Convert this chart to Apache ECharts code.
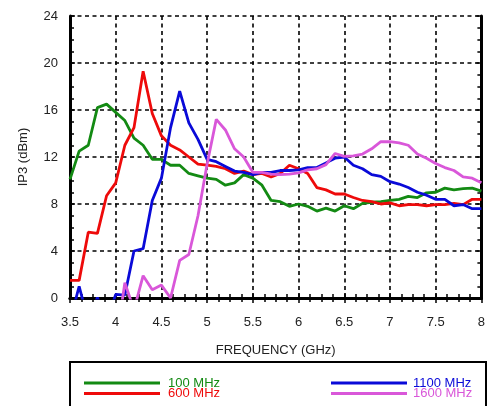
<!DOCTYPE html>
<html><head><meta charset="utf-8">
<script src="https://cdn.jsdelivr.net/npm/echarts@6/dist/echarts.min.js"></script>
<style>html,body{margin:0;padding:0;background:#fff}#c{width:488px;height:406px}</style>
</head><body><div id="c"></div>
<script>
const freqGHz = [3.5,3.6,3.7,3.8,3.9,4.0,4.1,4.2,4.3,4.4,4.5,4.6,4.7,4.8,4.9,5.0,5.1,5.2,5.3,5.4,5.5,5.6,5.7,5.8,5.9,6.0,6.1,6.2,6.3,6.4,6.5,6.6,6.7,6.8,6.9,7.0,7.1,7.2,7.3,7.4,7.5,7.6,7.7,7.8,7.9,8.0];
const seriesNames = ['100 MHz','600 MHz','1100 MHz','1600 MHz'];
const ip3_100 = [10.1,12.5,13.0,16.2,16.5,15.8,15.1,13.6,13.0,11.8,11.8,11.3,11.3,10.6,10.4,10.2,10.1,9.6,9.8,10.5,10.2,9.6,8.3,8.2,7.8,8.0,7.8,7.4,7.65,7.4,7.85,7.6,8.05,8.15,8.2,8.3,8.4,8.65,8.55,8.95,9.0,9.35,9.2,9.3,9.35,9.1];
const ip3_600 = [1.5,1.5,5.6,5.5,8.7,9.8,13.0,14.5,19.3,15.7,13.8,13.0,12.6,12.0,11.4,11.3,11.2,11.0,10.6,10.8,10.5,10.6,10.3,10.6,11.3,11.0,10.6,9.4,9.2,8.85,8.85,8.55,8.3,8.2,8.0,8.1,7.85,7.95,7.95,7.85,7.95,7.95,8.05,7.95,8.4,8.4];
const ip3_1100 = [-2,1.0,-2,0.05,-2,0.3,0.25,4.0,4.2,8.3,10.2,14.5,17.6,14.9,13.5,11.8,11.6,11.2,10.8,10.7,10.5,10.7,10.7,10.85,10.85,10.9,11.1,11.1,11.5,11.9,12.0,11.3,11.0,10.5,10.35,9.9,9.7,9.4,9.0,8.75,8.4,8.4,7.85,7.95,7.6,7.6];
const ip3_1600 = [-4,-4,-4,-4,-4,-4,1.3,-1.0,1.9,0.7,1.1,0.0,3.2,3.7,7.0,11.4,15.2,14.3,12.7,12.0,10.7,10.7,10.55,10.5,10.55,10.65,10.9,11.0,11.35,12.3,12.05,12.1,12.25,12.7,13.3,13.3,13.2,13.0,12.25,11.9,11.45,11.1,10.85,10.3,10.2,9.8];
const xTicks = [3.5,4,4.5,5,5.5,6,6.5,7,7.5,8];
const yTicks = [0,4,8,12,16,20,24];
const colors = ['#138a13','#ee0a0a','#0a0ad8','#d957d9'];

const FONT = 'Liberation Sans, Arial, sans-serif';
const allVals = [ip3_100, ip3_600, ip3_1100, ip3_1600];
const chart = echarts.init(document.getElementById('c'), null, {renderer:'canvas'});
const dash = {type:[4,3.5], width:1.6, color:'#000'};
const baseX = {type:'value', min:xTicks[0], max:xTicks[xTicks.length-1], interval:0.5};
const baseY = {type:'value', min:yTicks[0], max:yTicks[yTicks.length-1], interval:4};
const tickCommon = {
  axisLine:{lineStyle:{color:'#000', width:3}},
  axisTick:{inside:true, length:5, lineStyle:{color:'#000', width:1.5}},
  minorTick:{show:true, splitNumber:4, length:4, lineStyle:{color:'#000', width:1.5}}
};
chart.setOption({
  animation:false,
  textStyle:{fontFamily:FONT},
  grid:{left:70, right:2, top:16, bottom:108},
  xAxis:[
    Object.assign({}, baseX, tickCommon, {position:'bottom',
      name:'FREQUENCY (GHz)', nameLocation:'middle', nameGap:46,
      nameTextStyle:{fontSize:13, color:'#222', fontFamily:FONT},
      axisLabel:{fontSize:13, color:'#222', margin:18, fontFamily:FONT, formatter:v=>String(v)},
      splitLine:{show:true, lineStyle:dash}}),
    Object.assign({}, baseX, tickCommon, {position:'top',
      axisLabel:{show:false}, splitLine:{show:false}})
  ],
  yAxis:[
    Object.assign({}, baseY, tickCommon, {position:'left',
      name:'IP3 (dBm)', nameLocation:'middle', nameGap:40,
      nameTextStyle:{fontSize:13, color:'#222', fontFamily:FONT},
      axisLabel:{fontSize:13, color:'#222', margin:12, fontFamily:FONT},
      splitLine:{show:true, lineStyle:dash}}),
    Object.assign({}, baseY, tickCommon, {position:'right',
      axisLabel:{show:false}, splitLine:{show:false}})
  ],
  legend:[
    {orient:'vertical', left:84, top:376.5, padding:0, itemGap:-2.5, itemWidth:76, itemHeight:3, icon:'rect',
     textStyle:{fontSize:13, padding:[0,0,0,3], fontFamily:FONT},
     data:[{name:seriesNames[0], textStyle:{color:colors[0]}},{name:seriesNames[1], textStyle:{color:colors[1]}}]},
    {orient:'vertical', left:331, top:376.5, padding:0, itemGap:-2.5, itemWidth:76, itemHeight:3, icon:'rect',
     textStyle:{fontSize:13, padding:[0,0,0,1], fontFamily:FONT},
     data:[{name:seriesNames[2], textStyle:{color:colors[2]}},{name:seriesNames[3], textStyle:{color:colors[3]}}]}
  ],
  graphic:[{type:'rect', shape:{x:70, y:362, width:416, height:60}, style:{fill:'none', stroke:'#000', lineWidth:2}, z:-1}],
  series: seriesNames.map((n,i)=>({
    name:n, type:'line', xAxisIndex:0, yAxisIndex:0, showSymbol:false, symbol:'none', clip:true,
    lineStyle:{color:colors[i], width:2.8}, itemStyle:{color:colors[i]}, z:3+i,
    data: freqGHz.map((f,k)=>[f, allVals[i][k]])
  }))
});
</script></body></html>
